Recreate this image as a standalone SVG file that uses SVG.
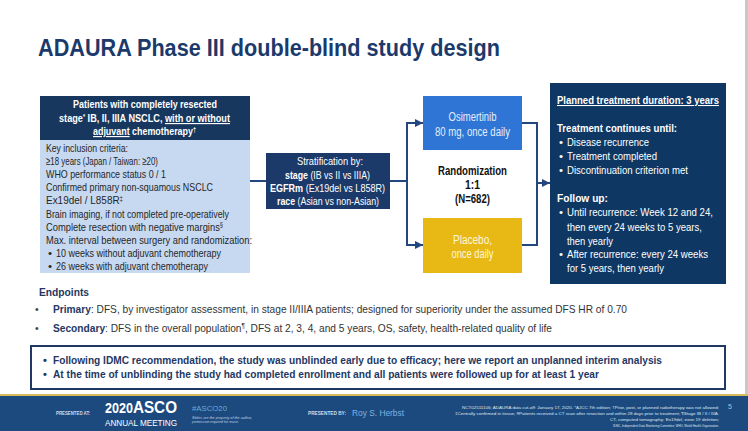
<svg xmlns="http://www.w3.org/2000/svg" width="748" height="431" viewBox="0 0 748 431">
<defs>
<style>
text{font-family:"Liberation Sans",Arial,sans-serif;}
.t{font-size:11.5px;}
.b{font-weight:bold;}
.w{fill:#ffffff;}
.dk{fill:#262626;}
.nv{fill:#1f3864;}
.gy{fill:#333333;}
.conn{stroke:#24467e;stroke-width:2;fill:none;}
.ft{font-size:4px;fill:#dde6f0;}
</style>
<marker id="arr" markerUnits="userSpaceOnUse" markerWidth="8" markerHeight="8" viewBox="0 0 8 8" refX="8" refY="4" orient="auto">
<path d="M0,0 L8,4 L0,8 z" fill="#24467e"/>
</marker>
</defs>
<rect x="0" y="0" width="748" height="431" fill="#ffffff"/>
<rect x="745" y="0" width="3" height="395" fill="#c8c8c8"/>

<text x="38" y="56" font-size="23.5" class="b" fill="#1b3a6b" textLength="462" lengthAdjust="spacingAndGlyphs">ADAURA Phase III double-blind study design</text>

<g id="connectors">
<path class="conn" d="M250,181 H266"/>
<path class="conn" d="M390,181 H407"/>
<path class="conn" d="M407,122 V246"/>
<path class="conn" d="M406,123 H423" marker-end="url(#arr)"/>
<path class="conn" d="M406,245 H423" marker-end="url(#arr)"/>
<path class="conn" d="M522,123 H537 V245 H522"/>
<path class="conn" d="M537,183 H550" marker-end="url(#arr)"/>
</g>

<g id="inclusion">
<rect x="40" y="96" width="210" height="44" fill="#17375e"/>
<rect x="40" y="140" width="210" height="133" fill="#c6d9f1"/>
<text x="73" y="108" class="t b w" textLength="144" lengthAdjust="spacingAndGlyphs">Patients with completely resected</text>
<text x="59" y="122" class="t b w" textLength="171" lengthAdjust="spacingAndGlyphs">stage<tspan font-size="7" dy="-3.5">*</tspan><tspan dy="3.5"> IB, II, IIIA NSCLC, </tspan><tspan text-decoration="underline">with or without</tspan></text>
<text x="93" y="135" class="t b w" textLength="103" lengthAdjust="spacingAndGlyphs"><tspan text-decoration="underline">adjuvant</tspan> chemotherapy<tspan font-size="7" dy="-3.5">†</tspan></text>
<text x="46" y="152" class="t dk" textLength="82" lengthAdjust="spacingAndGlyphs">Key inclusion criteria:</text>
<text x="46" y="165.1" class="t dk" textLength="112" lengthAdjust="spacingAndGlyphs">≥18 years (Japan / Taiwan: ≥20)</text>
<text x="46" y="178.2" class="t dk" textLength="120" lengthAdjust="spacingAndGlyphs">WHO performance status 0 / 1</text>
<text x="46" y="191.3" class="t dk" textLength="167" lengthAdjust="spacingAndGlyphs">Confirmed primary non-squamous NSCLC</text>
<text x="46" y="204.4" class="t dk" textLength="77" lengthAdjust="spacingAndGlyphs">Ex19del / L858R<tspan font-size="7" dy="-3.5">‡</tspan></text>
<text x="46" y="217.5" class="t dk" textLength="183" lengthAdjust="spacingAndGlyphs">Brain imaging, if not completed pre-operatively</text>
<text x="46" y="230.6" class="t dk" textLength="177" lengthAdjust="spacingAndGlyphs">Complete resection with negative margins<tspan font-size="7" dy="-3.5">§</tspan></text>
<text x="46" y="243.7" class="t dk" textLength="206" lengthAdjust="spacingAndGlyphs">Max. interval between surgery and randomization:</text>
<text x="48" y="256.8" class="t dk">•</text>
<text x="56" y="256.8" class="t dk" textLength="165" lengthAdjust="spacingAndGlyphs">10 weeks without adjuvant chemotherapy</text>
<text x="48" y="269.9" class="t dk">•</text>
<text x="56" y="269.9" class="t dk" textLength="152" lengthAdjust="spacingAndGlyphs">26 weeks with adjuvant chemotherapy</text>
</g>

<g id="stratification">
<rect x="266" y="153" width="124" height="56" fill="#1b3a6a"/>
<text x="297" y="165" class="t w" textLength="66" lengthAdjust="spacingAndGlyphs">Stratification  by:</text>
<text x="285" y="179" class="t w" textLength="85" lengthAdjust="spacingAndGlyphs"><tspan class="b">stage</tspan> (IB vs II vs IIIA)</text>
<text x="270" y="192" class="t w" textLength="115" lengthAdjust="spacingAndGlyphs"><tspan class="b">EGFRm</tspan> (Ex19del vs L858R)</text>
<text x="277" y="205" class="t w" textLength="102" lengthAdjust="spacingAndGlyphs"><tspan class="b">race</tspan> (Asian vs non-Asian)</text>
</g>

<g id="osimertinib">
<rect x="423" y="96" width="99" height="54" fill="#2e75d6"/>
<text x="472.5" y="121" text-anchor="middle" font-size="12" fill="#e6edf8" textLength="48" lengthAdjust="spacingAndGlyphs">Osimertinib</text>
<text x="472.5" y="136" text-anchor="middle" font-size="12" fill="#e6edf8" textLength="75" lengthAdjust="spacingAndGlyphs">80 mg, once daily</text>
</g>

<g id="randomization">
<text x="472.5" y="175" text-anchor="middle" font-size="12" class="b" fill="#111111" textLength="69" lengthAdjust="spacingAndGlyphs">Randomization</text>
<text x="472.5" y="189" text-anchor="middle" font-size="12" class="b" fill="#111111" textLength="15" lengthAdjust="spacingAndGlyphs">1:1</text>
<text x="472.5" y="203" text-anchor="middle" font-size="12" class="b" fill="#111111" textLength="35" lengthAdjust="spacingAndGlyphs">(N=682)</text>
</g>

<g id="placebo">
<rect x="423" y="218" width="99" height="55" fill="#e8b915"/>
<text x="472.5" y="244" text-anchor="middle" font-size="12" fill="#fdf6dc" textLength="39" lengthAdjust="spacingAndGlyphs">Placebo,</text>
<text x="472.5" y="257.5" text-anchor="middle" font-size="12" fill="#fdf6dc" textLength="42" lengthAdjust="spacingAndGlyphs">once daily</text>
</g>

<g id="treatment">
<rect x="550" y="83" width="176" height="201" fill="#0f3763"/>
<text x="557" y="104" font-size="10.5" class="b w" text-decoration="underline" textLength="162" lengthAdjust="spacingAndGlyphs">Planned treatment duration: 3 years</text>
<text x="557" y="132" class="t b w" textLength="120" lengthAdjust="spacingAndGlyphs">Treatment continues until:</text>
<text x="559" y="146" class="t w">•</text>
<text x="567" y="146" class="t w" textLength="82" lengthAdjust="spacingAndGlyphs">Disease recurrence</text>
<text x="559" y="160" class="t w">•</text>
<text x="567" y="160" class="t w" textLength="90" lengthAdjust="spacingAndGlyphs">Treatment completed</text>
<text x="559" y="174" class="t w">•</text>
<text x="567" y="174" class="t w" textLength="121" lengthAdjust="spacingAndGlyphs">Discontinuation criterion met</text>
<text x="557" y="202" class="t b w" textLength="51" lengthAdjust="spacingAndGlyphs">Follow up:</text>
<text x="559" y="216" class="t w">•</text>
<text x="567" y="216" class="t w" textLength="146" lengthAdjust="spacingAndGlyphs">Until recurrence: Week 12 and 24,</text>
<text x="567" y="230.5" class="t w" textLength="135" lengthAdjust="spacingAndGlyphs">then every 24 weeks to 5 years,</text>
<text x="567" y="244.5" class="t w" textLength="46" lengthAdjust="spacingAndGlyphs">then yearly</text>
<text x="559" y="258" class="t w">•</text>
<text x="567" y="258" class="t w" textLength="141" lengthAdjust="spacingAndGlyphs">After recurrence: every 24 weeks</text>
<text x="567" y="272" class="t w" textLength="97" lengthAdjust="spacingAndGlyphs">for 5 years, then yearly</text>
</g>

<g id="endpoints">
<text x="39" y="296" font-size="11" class="b nv" textLength="50" lengthAdjust="spacingAndGlyphs">Endpoints</text>
<text x="35" y="313" font-size="10.5" fill="#404040">•</text>
<text x="53" y="313" font-size="10.5" class="gy" textLength="574" lengthAdjust="spacingAndGlyphs"><tspan class="b nv">Primary</tspan>: DFS, by investigator assessment, in stage II/IIIA patients; designed for superiority under the assumed DFS HR of 0.70</text>
<text x="35" y="332" font-size="10.5" fill="#404040">•</text>
<text x="53" y="332" font-size="10.5" class="gy" textLength="499" lengthAdjust="spacingAndGlyphs"><tspan class="b nv">Secondary</tspan>: DFS in the overall population<tspan font-size="6.5" dy="-4">¶</tspan><tspan dy="4">, DFS at 2, 3, 4, and 5 years, OS, safety, health-related quality of life</tspan></text>
</g>

<g id="note">
<rect x="31" y="346" width="694" height="43" fill="#ffffff" stroke="#1f3864" stroke-width="2"/>
<text x="43" y="364" font-size="11" class="b nv">•</text>
<text x="53" y="364" font-size="11" class="b nv" textLength="609" lengthAdjust="spacingAndGlyphs">Following IDMC recommendation, the study was unblinded early due to efficacy; here we report an unplanned interim analysis</text>
<text x="43" y="378" font-size="11" class="b nv">•</text>
<text x="53" y="378" font-size="11" class="b nv" textLength="546" lengthAdjust="spacingAndGlyphs">At the time of unblinding the study had completed enrollment and all patients were followed up for at least 1 year</text>
</g>

<g id="footer">
<rect x="0" y="394" width="748" height="37" fill="#1c4a7e"/>
<rect x="0" y="394" width="748" height="2" fill="#d9b95a"/>
<text x="56" y="415" font-size="5.5" class="b" fill="#d0dcea" textLength="34" lengthAdjust="spacingAndGlyphs">PRESENTED AT:</text>
<text x="105" y="413" class="b w" textLength="72" lengthAdjust="spacingAndGlyphs"><tspan font-size="14">2020</tspan><tspan font-size="17">ASCO</tspan></text>
<text x="105" y="425.5" font-size="9" class="w" textLength="72" lengthAdjust="spacingAndGlyphs">ANNUAL MEETING</text>
<text x="192" y="411" font-size="8" fill="#6fa8dc" textLength="35" lengthAdjust="spacingAndGlyphs">#ASCO20</text>
<text x="192" y="419" font-size="3.8" font-style="italic" fill="#c0cfe0" textLength="60" lengthAdjust="spacingAndGlyphs">Slides are the property of the author,</text>
<text x="192" y="423" font-size="3.8" font-style="italic" fill="#c0cfe0" textLength="47" lengthAdjust="spacingAndGlyphs">permission required for reuse.</text>
<text x="308" y="415" font-size="5.5" class="b" fill="#d0dcea" textLength="38" lengthAdjust="spacingAndGlyphs">PRESENTED BY:</text>
<text x="352" y="416" font-size="9.5" fill="#7fb2e5" textLength="52" lengthAdjust="spacingAndGlyphs">Roy S. Herbst</text>
<text x="719" y="408.5" text-anchor="end" class="ft" textLength="257" lengthAdjust="spacingAndGlyphs">NCT02511106; ADAURA data cut-off: January 17, 2020. *AJCC 7th edition; †Prior, post, or planned radiotherapy was not allowed;</text>
<text x="719" y="414.5" text-anchor="end" class="ft" textLength="264" lengthAdjust="spacingAndGlyphs">‡Centrally confirmed in tissue; §Patients received a CT scan after resection and within 28 days prior to treatment; ¶Stage IB / II / IIIA.</text>
<text x="719" y="420.5" text-anchor="end" class="ft" textLength="109" lengthAdjust="spacingAndGlyphs">CT, computed tomography; Ex19del, exon 19 deletion;</text>
<text x="719" y="426.5" text-anchor="end" class="ft" textLength="106" lengthAdjust="spacingAndGlyphs">IDMC, Independent Data Monitoring Committee; WHO, World Health Organization.</text>
<text x="728" y="409" font-size="7" fill="#a9c0da">5</text>
</g>
</svg>
